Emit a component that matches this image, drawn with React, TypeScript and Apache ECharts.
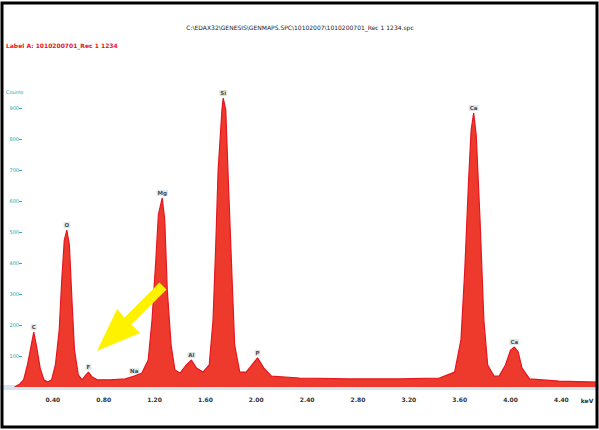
import React, { useEffect, useRef } from "react";
import * as echarts from "echarts";

// Spectrum (energy in keV, counts)
const energy = [
  0.10, 0.14, 0.17, 0.20, 0.23, 0.25, 0.27, 0.30, 0.33, 0.36, 0.39, 0.42, 0.45, 0.47, 0.49, 0.51,
  0.53, 0.55, 0.57, 0.60, 0.63, 0.66, 0.68, 0.71, 0.75, 0.85, 0.97, 1.04, 1.10, 1.15, 1.18, 1.21,
  1.23, 1.26, 1.28, 1.30, 1.33, 1.36, 1.40, 1.45, 1.49, 1.53, 1.58, 1.63, 1.66, 1.68, 1.70, 1.73,
  1.74, 1.76, 1.78, 1.81, 1.83, 1.87, 1.92, 1.96, 2.01, 2.06, 2.12, 2.34, 2.73, 3.13, 3.44, 3.56,
  3.61, 3.64, 3.67, 3.69, 3.71, 3.73, 3.76, 3.79, 3.82, 3.87, 3.91, 3.96, 4.00, 4.03, 4.06, 4.09,
  4.15, 4.38, 4.68,
];
const counts = [
  0, 10, 23, 71, 135, 177, 135, 61, 23, 16, 23, 71, 184, 345, 474, 506,
  458, 281, 119, 39, 23, 39, 48, 32, 23, 23, 26, 35, 45, 87, 216, 410,
  555, 610, 539, 313, 135, 55, 45, 71, 87, 61, 48, 71, 216, 442, 700, 894,
  932, 894, 668, 345, 135, 48, 48, 68, 94, 61, 35, 29, 26, 26, 29, 48,
  152, 377, 668, 829, 884, 813, 539, 216, 71, 35, 35, 71, 119, 129, 113, 61,
  26, 19, 16,
];

// Element peak labels
const peakNames = ["C", "O", "F", "Na", "Mg", "Al", "Si", "P", "Ca", "Ca"];
const peakEnergy = [0.25, 0.51, 0.68, 1.04, 1.26, 1.49, 1.74, 2.01, 3.71, 4.03];
const peakCounts = [177, 506, 48, 35, 610, 87, 932, 94, 884, 129];

// Axis ticks
const xTicks = [0.4, 0.8, 1.2, 1.6, 2.0, 2.4, 2.8, 3.2, 3.6, 4.0, 4.4];
const yTicks = [100, 200, 300, 400, 500, 600, 700, 800, 900];

const titleText = "C:\\EDAX32\\GENESIS\\GENMAPS.SPC\\10102007\\1010200701_Rec 1 1234.spc";
const labelText = "Label A: 1010200701_Rec 1 1234";

export default function App() {
  const ref = useRef<HTMLDivElement>(null);
  useEffect(() => {
    if (!ref.current) return;
    const chart = echarts.init(ref.current, undefined, { renderer: "svg" });
    const option = {
      animation: false,
      backgroundColor: "#ffffff",
      grid: { left: 2, right: 2, top: 77, bottom: 43, containLabel: false },
      xAxis: {
        type: "value",
        min: 0,
        max: 4.68,
        offset: 3,
        axisLine: { show: true, lineStyle: { color: "#d3e6ee", width: 5 } },
        axisTick: {
          show: true,
          customValues: xTicks,
          length: 3,
          inside: true,
          lineStyle: { color: "#7fb2c8", width: 1 },
        },
        axisLabel: {
          customValues: xTicks,
          formatter: (v: number) => v.toFixed(2),
          fontSize: 6,
          fontWeight: "bold",
          color: "#333",
          margin: 6,
          fontFamily: "DejaVu Sans",
        },
        splitLine: { show: false },
      },
      yAxis: {
        type: "value",
        min: 0,
        max: 1000,
        offset: -20,
        axisLine: { show: false },
        axisTick: {
          show: true,
          customValues: yTicks,
          length: 3,
          lineStyle: { color: "#3aa8b0" },
        },
        axisLabel: {
          customValues: yTicks,
          fontSize: 5,
          color: "#2aa0a8",
          margin: 3,
          fontFamily: "DejaVu Sans",
        },
        splitLine: { show: false },
      },
      series: [
        {
          type: "line",
          data: energy.map((e, i) => [e, counts[i]]),
          symbol: "none",
          lineStyle: { color: "#e4161f", width: 1.2 },
          areaStyle: { color: "#ee3a2c", opacity: 1 },
          z: 2,
        },
        {
          type: "scatter",
          symbolSize: 0,
          data: peakNames.map((n, i) => ({ name: n, value: [peakEnergy[i], peakCounts[i]] })),
          label: {
            show: true,
            formatter: "{b}",
            position: "top",
            distance: 2,
            fontSize: 5.5,
            fontWeight: "bold",
            color: "#1a1a1a",
            backgroundColor: "rgba(175,198,208,0.5)",
            padding: [0, 1],
            fontFamily: "DejaVu Sans",
          },
          z: 3,
        },
      ],
      graphic: [
        {
          type: "rect",
          shape: { x: 2, y: 3, width: 595, height: 424 },
          style: { fill: "none", stroke: "#000", lineWidth: 3 },
          z: 100,
        },
        {
          type: "text",
          x: 300,
          y: 27,
          style: {
            text: titleText,
            fontSize: 6,
            fill: "#222",
            align: "center",
            verticalAlign: "middle",
            fontFamily: "DejaVu Sans",
          },
        },
        {
          type: "text",
          x: 6,
          y: 45,
          style: {
            text: labelText,
            fontSize: 6,
            fontWeight: "bold",
            fill: "#e8141e",
            align: "left",
            verticalAlign: "middle",
            fontFamily: "DejaVu Sans",
          },
        },
        {
          type: "text",
          x: 6,
          y: 92,
          style: {
            text: "Counts",
            fontSize: 5,
            fill: "#2aa0a8",
            align: "left",
            verticalAlign: "middle",
            fontFamily: "DejaVu Sans",
          },
        },
        {
          type: "text",
          x: 587,
          y: 400,
          style: {
            text: "keV",
            fontSize: 6,
            fontWeight: "bold",
            fill: "#333",
            align: "center",
            verticalAlign: "middle",
            fontFamily: "DejaVu Sans",
          },
          z: 101,
        },
        {
          type: "polygon",
          shape: {
            points: [
              [97, 351],
              [117, 309],
              [124.5, 317.4],
              [159.5, 282.4],
              [166.5, 289.6],
              [131.5, 324.6],
              [140, 333],
            ],
          },
          style: { fill: "#fff200" },
          z: 50,
        },
      ],
    };
    chart.setOption(option as any);
    return () => chart.dispose();
  }, []);
  return (
    <div
      ref={ref}
      style={{ position: "fixed", left: 0, top: 0, width: 599, height: 430, background: "#fff" }}
    />
  );
}
